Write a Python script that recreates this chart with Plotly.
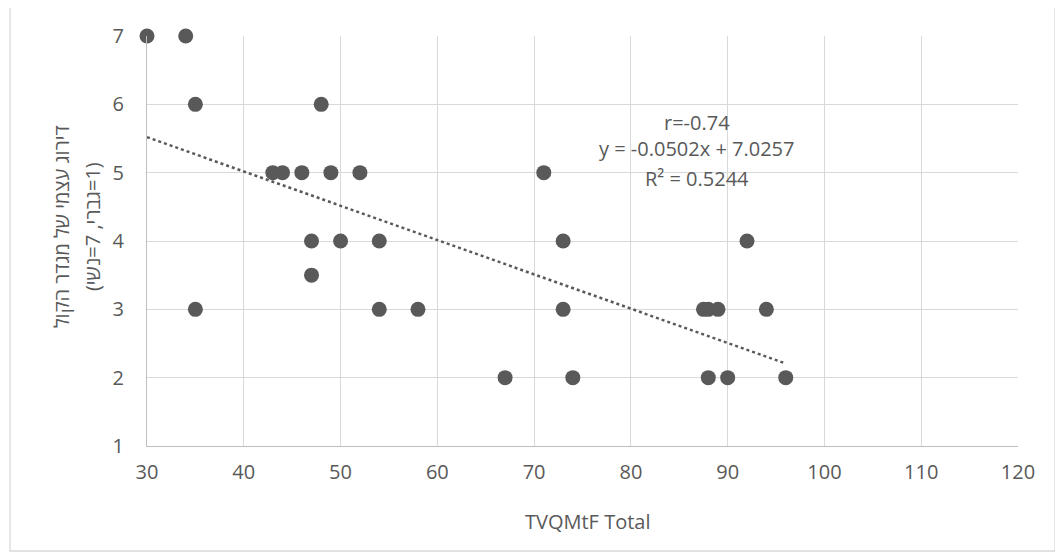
import plotly.graph_objects as go

# Data
tvqmtf_total = [30, 34, 35, 48, 35, 43, 44, 46, 49, 52, 47, 50, 54, 47, 54, 58,
                67, 74, 71, 73, 73, 87.5, 88, 89, 92, 94, 88, 90, 96]
self_rating = [7, 7, 6, 6, 3, 5, 5, 5, 5, 5, 4, 4, 4, 3.5, 3, 3,
               2, 2, 5, 4, 3, 3, 3, 3, 4, 3, 2, 2, 2]

trend_slope = -0.0502
trend_intercept = 7.0257
trend_labels = ["r=-0.74", "y = -0.0502x + 7.0257", "R² = 0.5244"]

x_title = "TVQMtF Total"
y_title_line1 = "דירוג עצמי של מגדר הקול"
y_title_line2 = "\u202B(1=גברי, 7=נשי)\u202C"

GRAY = "#595959"
FONT = "'Open Sans', 'Liberation Serif', sans-serif"
FS = 20

x_min, x_max = min(tvqmtf_total), max(tvqmtf_total)
trend_x = [x_min, x_max]
trend_y = [trend_slope * v + trend_intercept for v in trend_x]

fig = go.Figure()
fig.add_trace(go.Scatter(
    x=trend_x, y=trend_y, mode="lines",
    line=dict(color=GRAY, width=2.5, dash="dot"),
    hoverinfo="skip", showlegend=False, cliponaxis=False,
))
fig.add_trace(go.Scatter(
    x=tvqmtf_total, y=self_rating, mode="markers",
    marker=dict(color=GRAY, size=15, line=dict(width=0)),
    showlegend=False, cliponaxis=False,
))

# trendline label (three lines)
for txt, yy in zip(trend_labels, [5.741, 5.361, 4.922]):
    fig.add_annotation(
        x=86.8, y=yy, xref="x", yref="y", text=txt, showarrow=False,
        font=dict(family=FONT, size=FS, color=GRAY),
        xanchor="center", yanchor="middle",
    )
# x axis title
fig.add_annotation(
    x=0.5063, y=-0.183, xref="paper", yref="paper", text=x_title, showarrow=False,
    font=dict(family=FONT, size=FS, color=GRAY), xanchor="center", yanchor="middle",
)
# y axis title (two lines)
fig.add_annotation(
    x=-0.0987, y=0.534, xref="paper", yref="paper", text=y_title_line1,
    textangle=-90, showarrow=False,
    font=dict(family=FONT, size=FS, color=GRAY), xanchor="center", yanchor="middle",
)
fig.add_annotation(
    x=-0.0631, y=0.534, xref="paper", yref="paper", text=y_title_line2,
    textangle=-90, showarrow=False,
    font=dict(family=FONT, size=FS, color=GRAY), xanchor="center", yanchor="middle",
)

fig.add_shape(type="rect", xref="paper", yref="paper",
              x0=-0.1573, x1=1.0425, y0=-0.2561, y1=1.0732,
              line=dict(color="#d9d9d9", width=1.3), fillcolor="rgba(0,0,0,0)", layer="below")

fig.update_layout(
    width=1055, height=550,
    margin=dict(l=139, r=45, t=28, b=112),
    paper_bgcolor="white", plot_bgcolor="white",
    font=dict(family=FONT, size=FS, color=GRAY),
    xaxis=dict(
        range=[30, 120], dtick=10, tick0=30,
        showgrid=True, gridcolor="#d9d9d9", gridwidth=1,
        showline=True, linecolor="#bfbfbf", linewidth=1,
        zeroline=False, ticks="outside", ticklen=8, tickcolor="rgba(0,0,0,0)",
        tickfont=dict(family=FONT, size=FS, color=GRAY),
    ),
    yaxis=dict(
        range=[1, 7], dtick=1, tick0=1,
        showgrid=True, gridcolor="#d9d9d9", gridwidth=1,
        showline=True, linecolor="#bfbfbf", linewidth=1,
        zeroline=False, ticks="outside", ticklen=18, tickcolor="rgba(0,0,0,0)",
        tickfont=dict(family=FONT, size=FS, color=GRAY),
    ),
)

fig.write_html("out.html")
